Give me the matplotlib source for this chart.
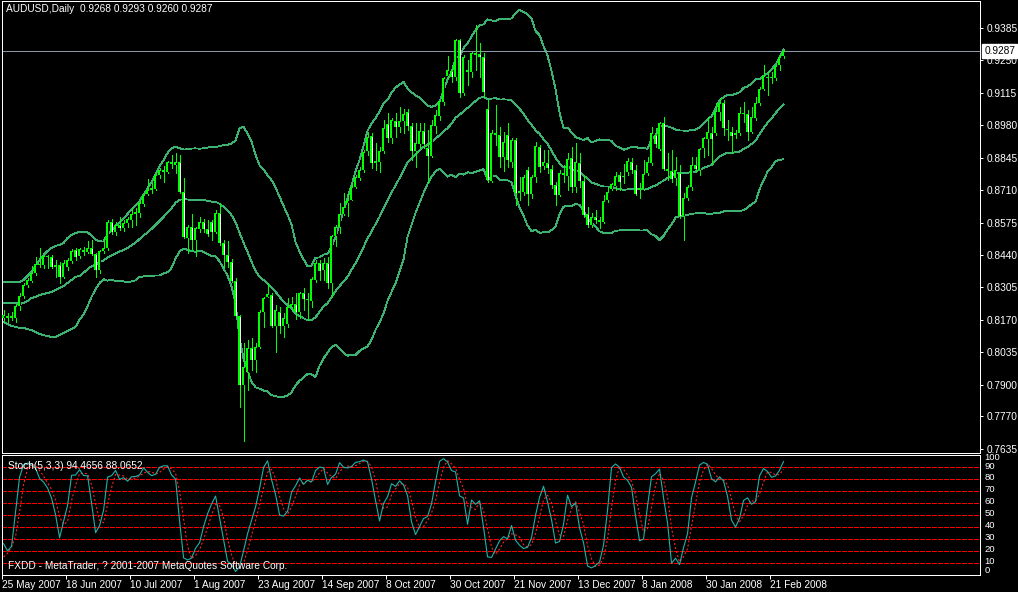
import numpy as np
import pandas as pd
import matplotlib
matplotlib.use("Agg")
import matplotlib.pyplot as plt
from matplotlib import transforms

plt.rcParams['lines.scale_dashes'] = False
plt.rcParams['font.family'] = ['Liberation Sans', 'DejaVu Sans']

# ---------------- data (daily AUDUSD, bar index 0 = 25 May 2007) ----------------
opens = [
    .8178, .8186, .8178, .8178, .8228, .8270, .8315, .8332, .8365, .8403,
    .8399, .8436, .8432, .8390, .8399, .8349, .8390, .8415, .8461, .8436,
    .8461, .8453, .8469, .8444, .8378, .8457, .8469, .8577, .8536, .8565,
    .8553, .8573, .8586, .8611, .8615, .8652, .8694, .8711, .8715, .8773,
    .8794, .8786, .8827, .8815, .8827, .8702, .8511, .8557, .8503, .8548,
    .8577, .8548, .8577, .8536, .8615, .8490, .8440, .8411, .8332, .8186,
    .7899, .7953, .8053, .8003, .8058, .8203, .8266, .8274, .8145, .8203,
    .8145, .8153, .8224, .8236, .8203, .8282, .8257, .8249, .8336, .8407,
    .8378, .8407, .8324, .8519, .8557, .8611, .8656, .8669, .8723, .8761,
    .8794, .8873, .8935, .8823, .8827, .8873, .8985, .8927, .8998, .8973,
    .8998, .9035, .8977, .8873, .8902, .8956, .8885, .8852, .8977, .9018,
    .9077, .9185, .9206, .9181, .9335, .9114, .9210, .9201, .9281, .9276,
    .9264, .9048, .8748, .8948, .8939, .8848, .8939, .8827, .8919, .8698,
    .8702, .8794, .8694, .8765, .8889, .8810, .8823, .8798, .8731, .8690,
    .8781, .8769, .8844, .8723, .8823, .8748, .8611, .8565, .8598, .8586,
    .8577, .8669, .8715, .8727, .8773, .8765, .8786, .8827, .8794, .8711,
    .8715, .8781, .8823, .8939, .8881, .8989, .8798, .8790, .8761, .8781,
    .8602, .8677, .8723, .8815, .8794, .8885, .8923, .8948, .8948, .9035,
    .9073, .8964, .8952, .8939, .8948, .9031, .9027, .8952, .9010, .9073,
    .9131, .9181, .9176, .9176, .9231, .9268]
highs = [
    .8211, .8199, .8203, .8236, .8282, .8324, .8345, .8394, .8432, .8469,
    .8440, .8440, .8440, .8419, .8411, .8419, .8428, .8465, .8469, .8469,
    .8473, .8498, .8503, .8449, .8461, .8515, .8586, .8590, .8577, .8598,
    .8586, .8598, .8636, .8636, .8669, .8698, .8756, .8740, .8781, .8802,
    .8810, .8831, .8856, .8865, .8856, .8761, .8565, .8611, .8557, .8598,
    .8590, .8586, .8586, .8627, .8656, .8503, .8498, .8424, .8345, .8191,
    .8074, .8087, .8095, .8074, .8211, .8266, .8324, .8282, .8232, .8224,
    .8199, .8261, .8266, .8282, .8286, .8303, .8282, .8349, .8419, .8419,
    .8428, .8432, .8523, .8565, .8656, .8698, .8698, .8740, .8773, .8806,
    .8877, .8952, .8948, .8906, .8889, .9002, .9031, .9010, .9031, .9056,
    .9048, .9048, .8989, .8989, .8989, .8989, .8960, .9002, .9043, .9085,
    .9181, .9268, .9231, .9339, .9339, .9272, .9251, .9285, .9397, .9322,
    .9281, .9085, .8960, .9064, .8973, .8952, .8989, .8927, .8927, .8765,
    .8773, .8806, .8773, .8910, .8898, .8877, .8877, .8815, .8744, .8794,
    .8815, .8865, .8889, .8906, .8865, .8773, .8640, .8615, .8627, .8598,
    .8690, .8723, .8740, .8786, .8786, .8819, .8844, .8844, .8815, .8740,
    .8835, .8848, .8973, .8968, .8993, .9014, .8865, .8877, .8848, .8815,
    .8698, .8731, .8848, .8848, .8885, .8931, .9014, .8973, .9073, .9093,
    .9085, .9002, .8973, .8960, .9056, .9077, .9043, .9056, .9097, .9139,
    .9231, .9201, .9201, .9239, .9272, .9293]
lows = [
    .8161, .8161, .8170, .8161, .8211, .8261, .8307, .8328, .8357, .8390,
    .8386, .8386, .8386, .8349, .8324, .8345, .8378, .8407, .8419, .8428,
    .8440, .8449, .8440, .8349, .8365, .8449, .8461, .8528, .8523, .8544,
    .8540, .8557, .8557, .8565, .8598, .8644, .8690, .8698, .8711, .8761,
    .8744, .8781, .8802, .8781, .8698, .8511, .8449, .8461, .8436, .8536,
    .8536, .8519, .8503, .8532, .8482, .8390, .8390, .8328, .8182, .7808,
    .7666, .7879, .7962, .7953, .8053, .8141, .8266, .8141, .8037, .8116,
    .8099, .8141, .8211, .8174, .8178, .8211, .8170, .8224, .8328, .8336,
    .8336, .8303, .8266, .8478, .8532, .8607, .8602, .8669, .8719, .8752,
    .8786, .8856, .8802, .8794, .8786, .8865, .8910, .8906, .8931, .8952,
    .8948, .8960, .8835, .8806, .8885, .8885, .8740, .8848, .8948, .9002,
    .9064, .9176, .9160, .9168, .9097, .9106, .9147, .9181, .9210, .9181,
    .9097, .8744, .8744, .8898, .8806, .8790, .8806, .8806, .8648, .8669,
    .8690, .8648, .8677, .8744, .8786, .8798, .8781, .8719, .8648, .8686,
    .8744, .8711, .8702, .8702, .8723, .8598, .8557, .8557, .8573, .8553,
    .8573, .8661, .8711, .8711, .8711, .8740, .8773, .8781, .8690, .8677,
    .8711, .8773, .8815, .8889, .8877, .8794, .8752, .8744, .8731, .8594,
    .8503, .8669, .8711, .8786, .8773, .8848, .8856, .8823, .8939, .9002,
    .8939, .8919, .8865, .8927, .8939, .8993, .8919, .8948, .9002, .9064,
    .9127, .9106, .9156, .9168, .9210, .9260]
closes = [
    .8191, .8178, .8186, .8228, .8270, .8315, .8336, .8365, .8403, .8399,
    .8436, .8432, .8390, .8399, .8349, .8407, .8419, .8457, .8432, .8465,
    .8453, .8469, .8444, .8378, .8457, .8469, .8577, .8536, .8565, .8553,
    .8573, .8590, .8611, .8619, .8656, .8690, .8711, .8719, .8773, .8794,
    .8786, .8827, .8819, .8827, .8702, .8515, .8557, .8503, .8553, .8577,
    .8548, .8528, .8536, .8615, .8490, .8440, .8411, .8332, .8186, .7899,
    .7974, .8053, .8003, .8058, .8203, .8261, .8278, .8145, .8211, .8145,
    .8178, .8224, .8236, .8203, .8282, .8257, .8253, .8340, .8407, .8374,
    .8407, .8324, .8519, .8557, .8611, .8640, .8669, .8723, .8765, .8794,
    .8869, .8931, .8823, .8831, .8873, .8968, .8927, .9002, .8973, .8998,
    .9027, .8977, .8873, .8906, .8956, .8902, .8852, .8981, .9023, .9081,
    .9176, .9210, .9181, .9335, .9114, .9264, .9201, .9281, .9272, .9264,
    .9118, .8752, .8948, .8939, .8848, .8910, .8835, .8919, .8698, .8706,
    .8765, .8694, .8765, .8894, .8806, .8827, .8802, .8731, .8690, .8781,
    .8773, .8840, .8723, .8827, .8748, .8607, .8565, .8598, .8586, .8577,
    .8665, .8702, .8736, .8769, .8744, .8769, .8831, .8794, .8694, .8719,
    .8777, .8827, .8948, .8902, .8989, .8798, .8790, .8756, .8794, .8602,
    .8677, .8723, .8815, .8798, .8881, .8927, .8952, .8923, .9039, .9073,
    .8968, .8960, .8935, .8948, .9031, .9027, .8952, .9014, .9073, .9131,
    .9185, .9176, .9181, .9226, .9264, .9287]

# Bollinger(20,2) values for the first 19 bars (history before the visible window)
bb_head_upper = [.8328, .8328, .8328, .8328, .8328, .8336, .8353, .8370, .8394, .8419,
                 .8440, .8457, .8469, .8478, .8482, .8490, .8511, .8523, .8532]
bb_head_mid = [.8241, .8241, .8241, .8241, .8236, .8241, .8249, .8261, .8266, .8274,
               .8278, .8282, .8286, .8295, .8303, .8311, .8324, .8336, .8349]
bb_head_lower = [.8161, .8153, .8145, .8141, .8137, .8137, .8132, .8128, .8120, .8112,
                 .8107, .8103, .8099, .8099, .8107, .8116, .8124, .8132, .8141]
# Stochastic(5,3,3) values for the first bars
stoch_head_k = [26, 20, 24, 53, 82, 92]
stoch_head_d = [15, 18]

date_ticks = [0, 16, 32, 48, 64, 80, 96, 112, 128, 144, 160, 176, 192]
date_labels = ['25 May 2007', '18 Jun 2007', '10 Jul 2007', '1 Aug 2007', '23 Aug 2007',
               '14 Sep 2007', '8 Oct 2007', '30 Oct 2007', '21 Nov 2007', '13 Dec 2007',
               '8 Jan 2008', '30 Jan 2008', '21 Feb 2008']
price_ticks = [0.9385, 0.9250, 0.9115, 0.8980, 0.8845, 0.8710, 0.8575, 0.8440,
               0.8305, 0.8170, 0.8035, 0.7900, 0.7770, 0.7635]
stoch_levels = [10, 20, 30, 40, 50, 60, 70, 80, 90]
stoch_labels = [100, 90, 80, 70, 60, 50, 40, 30, 20, 10, 0]
last_price = 0.9287
title_text = 'AUDUSD,Daily  0.9268 0.9293 0.9260 0.9287'
stoch_text = 'Stoch(5,3,3) 94.4656 88.0652'
copyright_text = 'FXDD - MetaTrader, ? 2001-2007 MetaQuotes Software Corp.'

# ---------------- indicators ----------------
o = np.array(opens); h = np.array(highs); l = np.array(lows); c = np.array(closes)
n = len(c)
x = np.arange(n)
cs = pd.Series(c)
mid = cs.rolling(20).mean().to_numpy()
sd = cs.rolling(20).std(ddof=0).to_numpy()
upper = mid + 2 * sd
lower = mid - 2 * sd
k0 = len(bb_head_mid)
mid[:k0] = bb_head_mid; upper[:k0] = bb_head_upper; lower[:k0] = bb_head_lower

hs = pd.Series(h); ls = pd.Series(l)
ll = ls.rolling(5).min(); hh = hs.rolling(5).max()
kk = 100 * (cs - ll).rolling(3).sum() / (hh - ll).rolling(3).sum()
kk = kk.to_numpy()
kk[:len(stoch_head_k)] = stoch_head_k
dd = pd.Series(kk).rolling(3).mean().to_numpy()
dd[:len(stoch_head_d)] = stoch_head_d

# ---------------- figure ----------------
W, H = 1018, 592
fig = plt.figure(figsize=(W / 100, H / 100), dpi=100, facecolor='black')
PX = 0.72  # one pixel in points

def axes_rect(left, top, right, bottom):
    return [left / W, 1 - bottom / H, (right - left) / W, (bottom - top) / H]

ax = fig.add_axes(axes_rect(2, 1, 980, 452.5))
ax2 = fig.add_axes(axes_rect(2, 454.5, 980, 575))

GREEN = '#00ff00'
BAND = '#3cb371'
FS = 7.3

for a in (ax, ax2):
    a.set_facecolor('black')
    for s in a.spines.values():
        s.set_color('white')
        s.set_linewidth(PX)
    a.set_xlim(-0.375, 244.125)

ylo, yhi = 0.76186, 0.94968
ax.set_ylim(ylo, yhi)
one_px = (yhi - ylo) / 451.5

# candles: wick, 3-px lime body, 1-px interior (white = bear, black = bull)
bull = c >= o
ax.vlines(x, l, h, color=GREEN, linewidth=PX, antialiased=False, zorder=2)
body_bottom = np.minimum(o, c)
body_h = np.abs(c - o)
ax.bar(x, np.maximum(body_h, one_px), bottom=body_bottom, width=0.75, color=GREEN,
       linewidth=0, antialiased=False, zorder=3)
inner = body_h > 2.5 * one_px
fills = np.where(bull, 'black', 'white')
ax.vlines(x[inner], (body_bottom + one_px)[inner], (body_bottom + body_h - one_px)[inner],
          colors=fills[inner], linewidth=PX, antialiased=False, zorder=4)

for band in (upper, mid, lower):
    ax.plot(x, band, color=BAND, lw=0.6, antialiased=False, zorder=1)

ax.axhline(last_price, color='#8899aa', lw=0.6, antialiased=False, zorder=1)

ax.set_xticks([])
ax.yaxis.tick_right()
ax.set_yticks(price_ticks)
ax.set_yticklabels([f'{v:.4f}' for v in price_ticks])
ax.tick_params(axis='y', direction='out', length=2.2, width=PX, colors='white',
               labelsize=FS, pad=2.5)

tr = transforms.blended_transform_factory(ax.transAxes, ax.transData)
ax.text(1.0045, last_price, f'{last_price:.4f}', transform=tr, color='black', fontsize=FS,
        va='center', ha='left', zorder=10, clip_on=False,
        bbox=dict(boxstyle='square,pad=0.2', facecolor='white', edgecolor='white'))

fig.text(6 / W, 1 - 9.5 / H, title_text, color='white', fontsize=FS, va='center', ha='left')

# stochastic panel
ax2.set_ylim(-0.2, 100.8)
for lv in stoch_levels:
    ax2.axhline(lv, color='#ff0000', lw=1.0, dashes=(2.9, 1.44), antialiased=False, zorder=1)
ax2.plot(x, dd, color='#ff2020', lw=0.8, dashes=(1.5, 1.5), zorder=2)
ax2.plot(x, kk, color='#20b2aa', lw=0.8, zorder=3)

ax2.set_yticks([])
tr2 = transforms.blended_transform_factory(ax2.transAxes, ax2.transData)
label_pos = {100: 98.4, 90: 90.4, 0: 3.3, 10: 11.0}
for v in stoch_labels:
    yy = label_pos.get(v, v + 1.3)
    ax2.text(1.0045, yy, str(v), transform=tr2, color='white', fontsize=FS - 0.5,
             va='center', ha='left', clip_on=False)

ax2.set_xticks(np.array(date_ticks) - 0.4)
ax2.set_xticklabels(date_labels)
for lbl in ax2.get_xticklabels():
    lbl.set_ha('left')
ax2.tick_params(axis='x', direction='out', length=3, width=PX, colors='white',
                labelsize=FS, pad=0.8)

ax2.text(6 / 978, 91.5, stoch_text, transform=tr2, color='white', fontsize=FS,
         va='center', ha='left', zorder=5)
ax2.text(6 / 978, 7.5, copyright_text, transform=tr2, color='white', fontsize=FS,
         va='center', ha='left', zorder=5)

fig.savefig('out.png', dpi=100, facecolor='black')
